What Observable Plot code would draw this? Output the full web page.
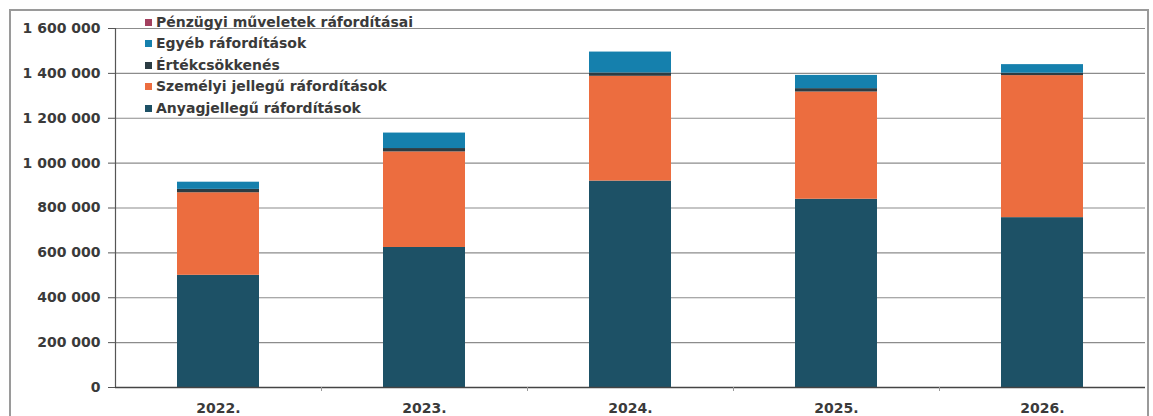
<!DOCTYPE html>
<html>
<head>
<meta charset="utf-8">
<script src="https://cdn.jsdelivr.net/npm/d3@7"></script>
<script src="https://cdn.jsdelivr.net/npm/@observablehq/plot@0.6"></script>
<style>
  html, body { margin: 0; padding: 0; background: #fff; }
  #wrap { position: relative; width: 1153px; height: 416px; overflow: hidden; }
  #frame { position: absolute; left: 9px; top: 9px; width: 1136px; height: 440px;
           border: 2px solid #9a9a9a; pointer-events: none; }
  #legend { position: absolute; left: 145px; top: 12px;
            font-family: "DejaVu Sans", sans-serif; font-weight: bold; font-size: 14px; color: #3a3a3a; }
  #legend .row { height: 21.4px; line-height: 21.4px; white-space: nowrap; }
  #legend .sw { display: inline-block; width: 7px; height: 7px; margin-right: 4px; vertical-align: 1px; }
</style>
</head>
<body>
<div id="wrap">
  <div id="chart"></div>
  <div id="legend"></div>
  <div id="frame"></div>
</div>
<script>
// ---- data ----
const years = ["2022.", "2023.", "2024.", "2025.", "2026."];
const seriesNames = [
  "Anyagjellegű ráfordítások",
  "Személyi jellegű ráfordítások",
  "Értékcsökkenés",
  "Egyéb ráfordítások",
  "Pénzügyi műveletek ráfordításai"
];
const anyag    = [500000, 624000, 920000, 839000, 757000];
const szemelyi = [368000, 426000, 467000, 478000, 633000];
const ertekcs  = [15000, 15000, 15000, 15000, 11000];
const egyeb    = [32000, 69000, 93000, 59000, 38000];
const penzugyi = [0, 0, 0, 0, 0];
const yTicks = [0, 200000, 400000, 600000, 800000, 1000000, 1200000, 1400000, 1600000];
const colors = ["#1d5166", "#ec6d3f", "#2c3c43", "#1580ad", "#a3405f"];

const seriesValues = [anyag, szemelyi, ertekcs, egyeb, penzugyi];
const rows = [];
seriesNames.forEach((s, si) => years.forEach((y, yi) => rows.push({year: y, series: s, value: seriesValues[si][yi]})));

const fmt = d3.formatLocale({thousands: "\u00a0", grouping: [3], decimal: ","}).format(",d");

const W = 1153, H = 416, mL = 115, mR = 8, mT = 28, mB = 29;
const step = (W - mL - mR) / years.length;

const plot = Plot.plot({
  width: W, height: H,
  marginLeft: mL, marginRight: mR, marginTop: mT, marginBottom: mB,
  style: {fontFamily: "DejaVu Sans, sans-serif", fontSize: "14px", fontWeight: "bold", color: "#3a3a3a", background: "transparent"},
  x: {domain: years, paddingInner: 0.6, paddingOuter: 0.3, label: null},
  y: {domain: [0, 1600000], label: null},
  color: {domain: seriesNames, range: colors},
  marks: [
    Plot.gridY(yTicks, {stroke: "#8c8c8c", strokeOpacity: 1, strokeWidth: 1.2}),
    Plot.barY(rows, {x: "year", y: "value", fill: "series", order: seriesNames}),
    Plot.frame({anchor: "left", stroke: "#555", strokeWidth: 1.2}),
    Plot.ruleY([0], {stroke: "#444", strokeWidth: 1.5}),
    Plot.axisY({ticks: yTicks, tickFormat: fmt, tickSize: 7, tickPadding: 8, stroke: "#555", fill: "#3a3a3a"}),
    Plot.axisX({tickSize: 0, tickPadding: 16, fill: "#3a3a3a"}),
    Plot.axisX({ticks: years.slice(0, -1), tickFormat: () => "", tickSize: 4, dx: step / 2, stroke: "#999"})
  ]
});
document.getElementById("chart").appendChild(plot);

// legend (top row = last series)
const legend = document.getElementById("legend");
seriesNames.slice().reverse().forEach((s) => {
  const c = colors[seriesNames.indexOf(s)];
  const row = document.createElement("div");
  row.className = "row";
  row.innerHTML = `<span class="sw" style="background:${c}"></span>${s}`;
  legend.appendChild(row);
});
</script>
</body>
</html>
